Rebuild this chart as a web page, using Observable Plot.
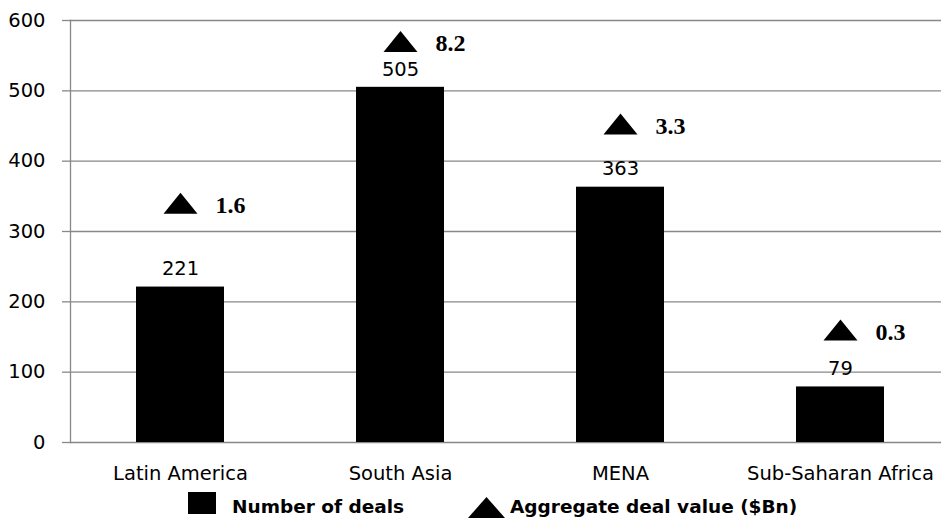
<!DOCTYPE html>
<html>
<head>
<meta charset="utf-8">
<script src="https://cdn.jsdelivr.net/npm/d3@7"></script>
<script src="https://cdn.jsdelivr.net/npm/@observablehq/plot@0.6"></script>
<style>
  html, body { margin: 0; padding: 0; background: #fff; }
  #wrap { width: 941px; height: 518px; overflow: hidden; position: relative; }
  #legend { position: relative; width: 941px; height: 32px; font-family: "DejaVu Sans", Verdana, sans-serif; font-weight: bold; font-size: 18.5px; line-height: 18.5px; color: #000; }
  #legend .sw { position: absolute; }
  #legend .lb { position: absolute; top: 12px; white-space: nowrap; }
</style>
</head>
<body>
<div id="wrap">
  <div id="chart"></div>
  <div id="legend">
    <div class="sw" style="left:188px;top:6px;width:28px;height:22px;background:#000"></div>
    <div class="lb" style="left:232px">Number of deals</div>
    <svg class="sw" style="left:468px;top:11px" width="37" height="21"><polygon points="18.5,0 37,21 0,21" fill="#000"/></svg>
    <div class="lb" style="left:510px">Aggregate deal value ($Bn)</div>
  </div>
</div>
<script>
const regions = ["Latin America", "South Asia", "MENA", "Sub-Saharan Africa"];
const deals = [221, 505, 363, 79];
const dealValue = [1.6, 8.2, 3.3, 0.3];
// height (on the deal-count axis) at which each value marker sits in the picture
const markerLevel = [340, 570, 453, 160];
const yTicks = [0, 100, 200, 300, 400, 500, 600];

const rows = regions.map((r, i) => ({region: r, deals: deals[i], value: dealValue[i], level: markerLevel[i]}));

const flatTriangle = {
  draw(context, size) {
    const s = Math.sqrt(size / Math.PI);
    const hw = 1.7 * s, hh = 1.05 * s;
    context.moveTo(0, -hh);
    context.lineTo(hw, hh);
    context.lineTo(-hw, hh);
    context.closePath();
  }
};

const grey = "#888888";
const fs = 19.5;
const chart = Plot.plot({
  width: 941,
  height: 486,
  marginLeft: 70,
  marginRight: 0,
  marginTop: 20,
  marginBottom: 44,
  style: {fontFamily: "'DejaVu Sans', Verdana, sans-serif", fontSize: fs + "px", color: "#000", background: "#fff"},
  x: {domain: regions, range: [70, 950], paddingInner: 0.6, paddingOuter: 0.3, label: null},
  y: {domain: [0, 600], label: null},
  marks: [
    Plot.ruleY(yTicks, {y: d => d, stroke: grey, strokeWidth: 1.3}),
    Plot.frame({anchor: "left", stroke: grey, strokeWidth: 1.3}),
    Plot.axisY({ticks: yTicks, tickSize: 8, tickPadding: 17, stroke: grey, strokeWidth: 1.3, fill: "#000", fontSize: fs, label: null}),
    Plot.axisX({tickSize: 0, tickPadding: 23.5, fill: "#000", fontSize: fs, label: null}),
    Plot.barY(rows, {x: "region", y: "deals", fill: "#000"}),
    Plot.text(rows, {x: "region", y: "deals", text: d => String(d.deals), dy: -18, lineAnchor: "middle", fill: "#000", fontSize: fs}),
    Plot.dot(rows, {x: "region", y: "level", symbol: flatTriangle, r: 10, fill: "#000", stroke: "none"}),
    Plot.text(rows, {x: "region", y: "level", text: d => d.value.toFixed(1), dx: 35, dy: 2, textAnchor: "start", lineAnchor: "middle", fill: "#000", fontFamily: "'Liberation Serif', 'Times New Roman', serif", fontWeight: "bold", fontSize: 24})
  ]
});
document.getElementById("chart").appendChild(chart);
</script>
</body>
</html>
